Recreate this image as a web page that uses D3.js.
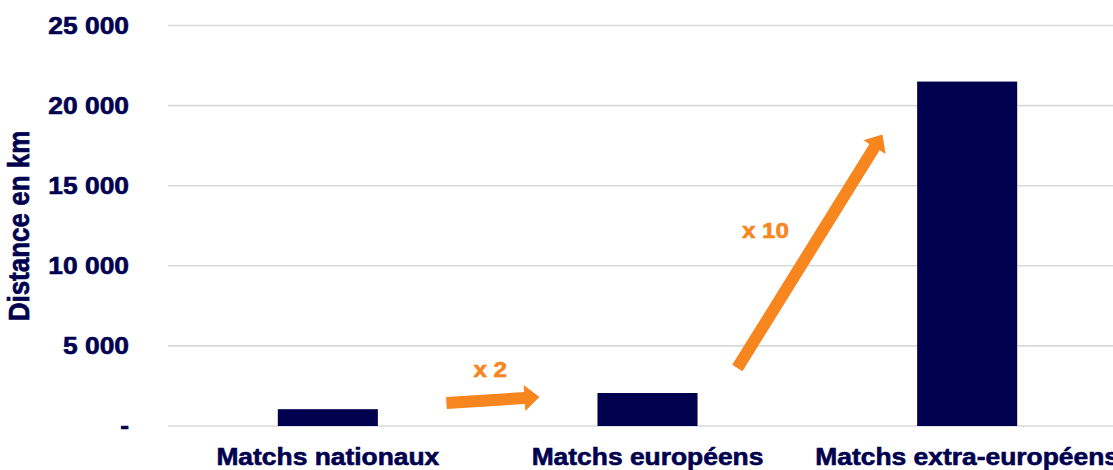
<!DOCTYPE html>
<html>
<head>
<meta charset="utf-8">
<script src="https://cdn.jsdelivr.net/npm/d3@7"></script>
<style>
  html, body { margin: 0; padding: 0; background: #ffffff; overflow: hidden; }
  svg { display: block; }
  text { font-family: "Liberation Sans", Arial, sans-serif; font-weight: bold; stroke-width: 0.6px; }
</style>
</head>
<body>
<svg id="chart" width="1113" height="470"></svg>
<script>
// Distance travelled per match type (km)
const categories = ["Matchs nationaux", "Matchs européens", "Matchs extra-européens"];
const distances = [1050, 2060, 21500];
const tickValues = [0, 5000, 10000, 15000, 20000, 25000];
const tickLabels = ["-", "5 000", "10 000", "15 000", "20 000", "25 000"];
const axisTitle = "Distance en km";

// Growth annotations: arrow from/to expressed as (category index, km)
const growthLabels = ["x 2", "x 10"];
const growthArrows = [
  { from: [0.371, 1435], to: [0.662, 1810], label: [0.508, 3060] },
  { from: [1.281, 3620], to: [1.735, 18200], label: [1.369, 11750] }
];

const NAVY = "#00004f";
const ORANGE = "#f7861e";
const GRID = "#d9d9d9";
const SX = 1.1; // horizontal text stretch

const svg = d3.select("#chart");

const x = d3.scaleBand()
  .domain(categories)
  .range([168, 1127])
  .paddingInner(0.687)
  .paddingOuter(0.3435);

const y = d3.scaleLinear()
  .domain([0, 25000])
  .range([426, 25.5]);

// continuous position along the category axis (0 = first band centre)
const xi = d3.scaleLinear()
  .domain([0, categories.length - 1])
  .range([x(categories[0]) + x.bandwidth() / 2,
          x(categories[categories.length - 1]) + x.bandwidth() / 2]);

// gridlines
svg.append("g")
  .selectAll("line")
  .data(tickValues)
  .join("line")
  .attr("x1", 168)
  .attr("x2", 1113)
  .attr("y1", d => y(d))
  .attr("y2", d => y(d))
  .attr("stroke", GRID)
  .attr("stroke-width", 1.6);

// y tick labels
svg.append("g")
  .selectAll("g")
  .data(tickValues)
  .join("g")
  .attr("transform", d => `translate(129,${y(d)}) scale(${SX},1)`)
  .append("text")
  .attr("text-anchor", "end")
  .attr("dy", "0.35em")
  .attr("font-size", 24)
  .attr("fill", NAVY)
  .attr("stroke", NAVY)
  .text((d, i) => tickLabels[i]);

// y axis title
svg.append("g")
  .attr("transform", `translate(29,226) scale(${SX},1) rotate(-90)`)
  .append("text")
  .attr("text-anchor", "middle")
  .attr("font-size", 26)
  .attr("fill", NAVY)
  .attr("stroke", NAVY)
  .text(axisTitle);

// bars
svg.append("g")
  .selectAll("rect")
  .data(distances)
  .join("rect")
  .attr("x", (d, i) => x(categories[i]))
  .attr("width", x.bandwidth())
  .attr("y", d => y(d))
  .attr("height", d => y(0) - y(d))
  .attr("fill", NAVY);

// category labels
svg.append("g")
  .selectAll("g")
  .data(categories)
  .join("g")
  .attr("transform", d => `translate(${x(d) + x.bandwidth() / 2},465) scale(${SX},1)`)
  .append("text")
  .attr("text-anchor", "middle")
  .attr("font-size", 24)
  .attr("fill", NAVY)
  .attr("stroke", NAVY)
  .text(d => d);

// arrow polygon from tail to tip
function arrowPath(x0, y0, x1, y1, shaft, headW, headL) {
  const dx = x1 - x0, dy = y1 - y0;
  const len = Math.hypot(dx, dy);
  const ux = dx / len, uy = dy / len;
  const nx = -uy, ny = ux;
  const bx = x1 - ux * headL, by = y1 - uy * headL;
  const pts = [
    [x0 + nx * shaft / 2, y0 + ny * shaft / 2],
    [bx + nx * shaft / 2, by + ny * shaft / 2],
    [bx + nx * headW / 2, by + ny * headW / 2],
    [x1, y1],
    [bx - nx * headW / 2, by - ny * headW / 2],
    [bx - nx * shaft / 2, by - ny * shaft / 2],
    [x0 - nx * shaft / 2, y0 - ny * shaft / 2]
  ];
  return "M" + pts.map(p => p.join(",")).join("L") + "Z";
}

const ann = svg.append("g");
ann.selectAll("path")
  .data(growthArrows)
  .join("path")
  .attr("d", d => arrowPath(xi(d.from[0]), y(d.from[1]), xi(d.to[0]), y(d.to[1]), 12, 26, 15))
  .attr("fill", ORANGE);

ann.selectAll("g")
  .data(growthArrows)
  .join("g")
  .attr("transform", d => `translate(${xi(d.label[0])},${y(d.label[1])}) scale(${SX},1)`)
  .append("text")
  .attr("text-anchor", "middle")
  .attr("font-size", 22)
  .attr("fill", ORANGE)
  .attr("stroke", ORANGE)
  .text((d, i) => growthLabels[i]);
</script>
</body>
</html>
